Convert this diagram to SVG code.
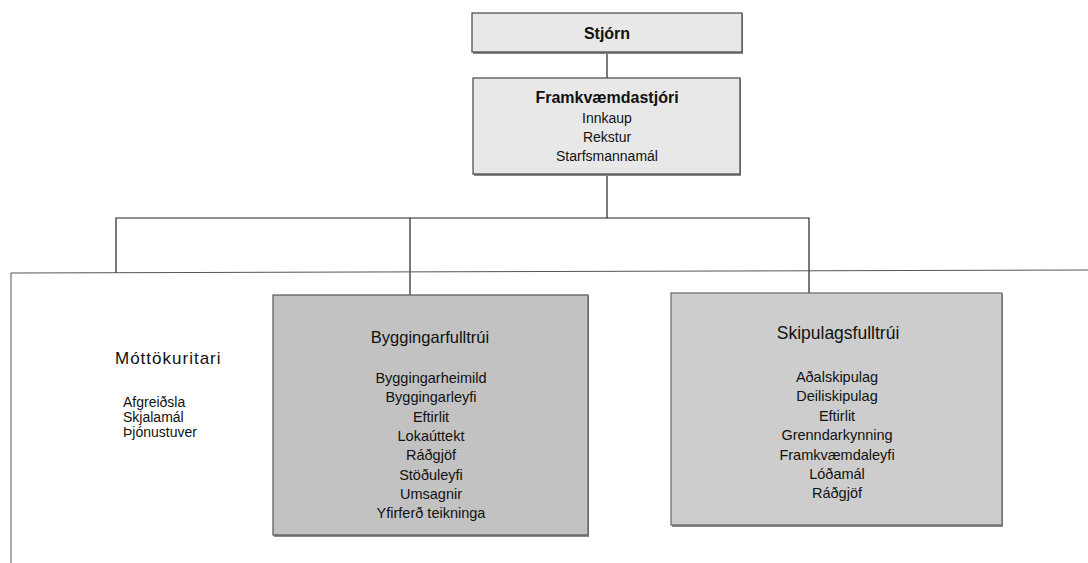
<svg xmlns="http://www.w3.org/2000/svg" width="1088" height="563" viewBox="0 0 1088 563">
<style>
.t{font-family:"Liberation Sans",Arial,sans-serif;fill:#111;text-anchor:middle}
.b{font-weight:bold}
.s{text-anchor:start}
.top{fill:#e8e8e8;stroke:#444;stroke-width:1.2}
.bg{fill:#c2c2c2;stroke:#555;stroke-width:1.2}
.sk{fill:#cdcdcd;stroke:#666;stroke-width:1.2}
.sh{fill:#8a8a8a}
.ln{stroke:#222;stroke-width:1.2;fill:none}
.ln2{stroke:#555;stroke-width:1;fill:none}
</style>
<rect width="1088" height="563" fill="#ffffff"/>
<g id="connectors">
<line class="ln" x1="607" y1="52" x2="607" y2="78"/>
<line class="ln" x1="607" y1="174" x2="607" y2="218"/>
<polyline class="ln" points="116,273 116,218 809,218 809,293"/>
<line class="ln" x1="410" y1="218" x2="410" y2="295"/>
<polyline class="ln2" points="11,563 11,273 1088,270"/>
</g>
<g id="stjorn">
<rect class="sh" x="473" y="14" width="270" height="40"/>
<rect class="top" x="472" y="13" width="270" height="39"/>
<text class="t b" x="607" y="39" font-size="16">Stjórn</text>
</g>
<g id="framkvaemdastjori">
<rect class="sh" x="474" y="79" width="267" height="97"/>
<rect class="top" x="473" y="78" width="267" height="96"/>
<text class="t b" x="607" y="103" font-size="16">Framkvæmdastjóri</text>
<text class="t" x="607" y="123" font-size="14">Innkaup</text>
<text class="t" x="607" y="142" font-size="14">Rekstur</text>
<text class="t" x="607" y="161" font-size="14">Starfsmannamál</text>
</g>
<g id="mottokuritari">
<text class="t s" x="115" y="364" font-size="17" letter-spacing="1">Móttökuritari</text>
<text class="t s" x="123" y="407" font-size="14">Afgreiðsla</text>
<text class="t s" x="123" y="422" font-size="14">Skjalamál</text>
<text class="t s" x="123" y="437" font-size="14">Þjónustuver</text>
</g>
<g id="byggingarfulltrui">
<rect class="sh" x="274" y="296" width="315" height="241"/>
<rect class="bg" x="273" y="295" width="315" height="240"/>
<text class="t" x="430" y="343" font-size="16.5">Byggingarfulltrúi</text>
<text class="t" x="431" y="383" font-size="14.5">Byggingarheimild</text>
<text class="t" x="431" y="402" font-size="14.5">Byggingarleyfi</text>
<text class="t" x="431" y="422" font-size="14.5">Eftirlit</text>
<text class="t" x="431" y="441" font-size="14.5">Lokaúttekt</text>
<text class="t" x="431" y="460" font-size="14.5">Ráðgjöf</text>
<text class="t" x="431" y="480" font-size="14.5">Stöðuleyfi</text>
<text class="t" x="431" y="499" font-size="14.5">Umsagnir</text>
<text class="t" x="431" y="518" font-size="14.5">Yfirferð teikninga</text>
</g>
<g id="skipulagsfulltrui">
<rect class="sh" x="672" y="294" width="331" height="233"/>
<rect class="sk" x="671" y="293" width="331" height="232"/>
<text class="t" x="838" y="339" font-size="17.5">Skipulagsfulltrúi</text>
<text class="t" x="837" y="382" font-size="14.5">Aðalskipulag</text>
<text class="t" x="837" y="401" font-size="14.5">Deiliskipulag</text>
<text class="t" x="837" y="421" font-size="14.5">Eftirlit</text>
<text class="t" x="837" y="440" font-size="14.5">Grenndarkynning</text>
<text class="t" x="837" y="460" font-size="14.5">Framkvæmdaleyfi</text>
<text class="t" x="837" y="479" font-size="14.5">Lóðamál</text>
<text class="t" x="837" y="498" font-size="14.5">Ráðgjöf</text>
</g>
</svg>
